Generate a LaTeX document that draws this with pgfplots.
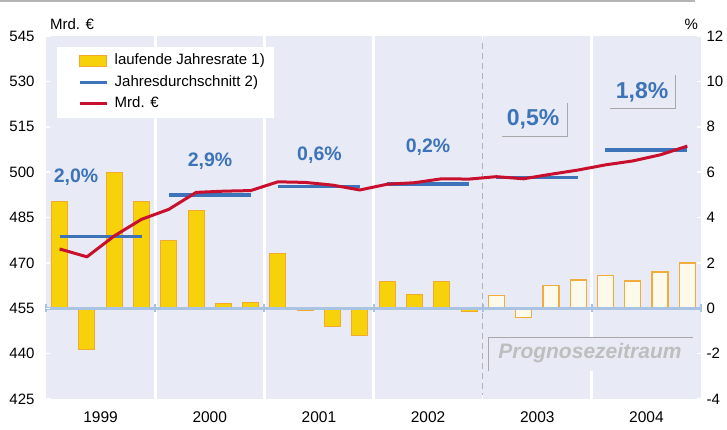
\documentclass[border=0pt]{standalone}
\usepackage{pgfplots}
\pgfplotsset{compat=1.18}
\usepackage{pgfplotstable}
\usepackage{fontspec}
\setmainfont{Liberation Sans}

\definecolor{bg}{HTML}{E8EBF5}
\definecolor{barY}{HTML}{F7D20A}
\definecolor{barE}{HTML}{F0AA30}
\definecolor{barF}{HTML}{FDFAEC}
\definecolor{barFE}{HTML}{F0AC3C}
\definecolor{avgB}{HTML}{3D73B9}
\definecolor{lineR}{HTML}{C8102E}
\definecolor{zeroB}{HTML}{A9C3E3}
\definecolor{sepG}{HTML}{B4B4B4}
\definecolor{progG}{HTML}{BEBEBE}
\definecolor{boxG}{HTML}{A8A8A8}

% laufende Jahresrate (%), quarters 0..23
\pgfplotstableread{
q rate
0 4.7
1 -1.8
2 6.0
3 4.7
4 3.0
5 4.3
6 0.2
7 0.25
8 2.4
9 -0.1
10 -0.8
11 -1.2
12 1.2
13 0.6
14 1.2
15 -0.15
}\actual
\pgfplotstableread{
q rate
16 0.55
17 -0.4
18 1.0
19 1.25
20 1.45
21 1.2
22 1.6
23 2.0
}\forecast
% Mrd. EUR
\pgfplotstableread{
q val
0 474.6
1 472.0
2 478.9
3 484.4
4 487.7
5 493.3
6 493.7
7 493.9
8 496.8
9 496.6
10 495.7
11 494.1
12 496.0
13 496.5
14 497.8
15 497.7
16 498.5
17 497.8
18 499.3
19 500.7
20 502.4
21 503.7
22 505.7
23 508.6
}\level
% Jahresdurchschnitt
\pgfplotstableread{
q val
0 478.7
3 478.7
3.5 nan
4 492.4
7 492.4
7.5 nan
8 495.2
11 495.2
11.5 nan
12 496.1
15 496.1
15.5 nan
16 498.3
19 498.3
19.5 nan
20 507.3
23 507.3
}\average

\begin{document}
\begin{tikzpicture}[font=\fontsize{15}{18}\selectfont]
\path[use as bounding box] (-46pt,-30pt) rectangle (681pt,399pt);
\draw[sepG, line width=2pt] (-46pt,398pt) -- (649pt,398pt);

\pgfplotsset{base/.style={
  scale only axis, width=655pt, height=363pt,
  at={(0pt,0pt)}, anchor=south west,
  xmin=-0.5, xmax=23.5,
  axis line style={draw=none},
  /pgf/number format/assume math mode=true,
  tick label style={font=\fontsize{15}{18}\selectfont},
  major tick length=4pt, tick align=inside,
  major tick style={white, line width=1.5pt},
}}

\begin{axis}[base,
  ymin=-4, ymax=12, ytick={-4,-2,...,12},
  ytick pos=right,
  yticklabel style={xshift=2pt},
  axis background/.style={fill=bg},
  xtick={3.5,7.5,11.5,19.5}, xticklabels={},
  xmajorgrids, x grid style={white, line width=3pt},
  extra x ticks={1.5,5.5,9.5,13.5,17.5,21.5},
  extra x tick labels={1999,2000,2001,2002,2003,2004},
  extra x tick style={grid=none, major tick length=0pt,
    tick label style={font=\fontsize{15.5}{17}\selectfont, yshift=-11.5pt, inner sep=1pt}},
]
\addplot[ybar, bar width=16pt, bar shift=0pt, fill=barY, draw=barE, line width=1pt]
  table[x=q, y=rate] {\actual};
\addplot[ybar, bar width=16pt, bar shift=0pt, fill=barF, draw=barFE, line width=1.3pt]
  table[x=q, y=rate] {\forecast};
\addplot[zeroB, line width=2.5pt, mark=|, mark size=4pt, mark options={line width=2pt}]
  coordinates {(-0.5,0) (3.5,0) (7.5,0) (11.5,0) (15.5,0) (19.5,0) (23.5,0)};
\end{axis}

\begin{axis}[base, clip=false,
  ymin=425, ymax=545, ytick={425,440,...,545},
  ytick pos=left,
  yticklabel style={xshift=-8pt},
  xtick={15.5}, xticklabels={},
  xmajorgrids, x grid style={sepG, line width=1.2pt, dash pattern=on 6pt off 4pt},
  unbounded coords=jump,
  legend style={at={(0,1)}, anchor=north west, xshift=11pt, yshift=-11pt,
    draw=none, fill=white, font=\fontsize{15}{18}\selectfont,
    inner xsep=7pt, inner ysep=3pt, row sep=0pt,
    /tikz/every odd column/.append style={column sep=4pt},
    nodes={text height=11pt, text depth=3.5pt, inner ysep=3.5pt}},
  legend cell align=left,
]
\addlegendimage{legend image code/.code={\path (0pt,0pt); \draw[fill=barY, draw=barE, line width=1pt] (14pt,-5.5pt) rectangle (41pt,5.5pt);}}
\addlegendentry{laufende Jahresrate 1)}
\addplot[avgB, line width=3.5pt, legend image code/.code={\path (0pt,0pt); \draw[avgB, line width=3.5pt] (14pt,0pt) -- (41pt,0pt);}]
  table[x=q, y=val] {\average};
\addlegendentry{Jahresdurchschnitt 2)}
\addplot[lineR, line width=3pt, line join=round, legend image code/.code={\path (0pt,0pt); \draw[lineR, line width=3pt] (14pt,0pt) -- (41pt,0pt);}]
  table[x=q, y=val] {\level};
\addlegendentry{Mrd. €}

\node at (rel axis cs:0.0397,1) [yshift=12pt] {Mrd. €};
\node at (rel axis cs:0.985,1) [yshift=12pt] {\%};

\fill[bg] (axis cs:15.7,434.3) rectangle (axis cs:23.2,445.2);
\draw[boxG, line width=1pt] (axis cs:15.7,434.3) |- (axis cs:23.2,445.2);
\node[progG, font=\bfseries\itshape\fontsize{21}{24}\selectfont] at (axis cs:19.43,440.2) {Prognosezeitraum};

\node[avgB, font=\bfseries\fontsize{19.5}{22}\selectfont] at (axis cs:0.6,498.4) {2,0\%};
\node[avgB, font=\bfseries\fontsize{19.5}{22}\selectfont] at (axis cs:5.51,503.7) {2,9\%};
\node[avgB, font=\bfseries\fontsize{19.5}{22}\selectfont] at (axis cs:9.52,505.5) {0,6\%};
\node[avgB, font=\bfseries\fontsize{19.5}{22}\selectfont] at (axis cs:13.5,508.3) {0,2\%};
\draw[boxG, line width=1pt] (axis cs:16.21,511.9) -| (axis cs:18.59,522.85);
\node[avgB, font=\bfseries\fontsize{23}{26}\selectfont] at (axis cs:17.35,517.6) {0,5\%};
\draw[boxG, line width=1pt] (axis cs:20.17,520.9) -| (axis cs:22.55,532.1);
\node[avgB, font=\bfseries\fontsize{23}{26}\selectfont] at (axis cs:21.34,526.5) {1,8\%};
\end{axis}
\end{tikzpicture}
\end{document}
